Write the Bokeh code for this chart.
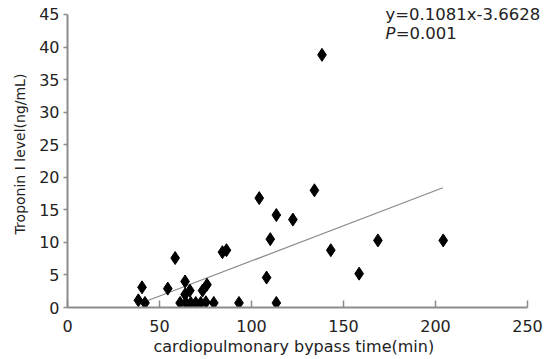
from bokeh.plotting import figure
from bokeh.models import Range1d, Label, FixedTicker, Title
from bokeh.embed import file_html
from bokeh.resources import INLINE

# data
bypass_time = [38.5, 42.1, 40.5, 54.5, 58.5, 61.2, 63.9, 63.9, 64.3, 66.5,
               67.0, 69.7, 72.4, 73.4, 75.8, 75.2, 79.5, 93.2, 84.2, 86.4,
               104.2, 108.2, 110.2, 113.5, 113.5, 122.5, 134.2, 138.3, 143.1,
               158.5, 168.7, 204.2]
troponin = [1.1, 0.7, 3.1, 2.9, 7.6, 0.7, 4.0, 2.0, 0.7, 2.6,
            0.7, 0.7, 0.7, 2.6, 3.5, 0.8, 0.7, 0.7, 8.5, 8.8,
            16.8, 4.6, 10.5, 14.2, 0.7, 13.5, 18.0, 38.8, 8.8,
            5.2, 10.3, 10.3]
trend_x = [43.0, 204.0]
trend_y = [0.99, 18.39]
x_ticks = [0, 50, 100, 150, 200, 250]
y_ticks = [0, 5, 10, 15, 20, 25, 30, 35, 40, 45]
equation_text = "y=0.1081x-3.6628"
p_text = "=0.001"

FONT = "DejaVu Sans"
TXT = "#222222"
AX = "#8c8c8c"

p = figure(frame_width=487, frame_height=307, output_backend="svg",
           toolbar_location=None,
           x_range=Range1d(0, 264.67), y_range=Range1d(0, 47.15),
           min_border_left=67, min_border_right=0, min_border_top=0,
           min_border_bottom=52)
p.outline_line_color = None
p.grid.visible = False
p.background_fill_color = "white"
p.border_fill_color = "white"

p.line(trend_x, trend_y, line_color="#8a8a8a", line_width=1.2)
p.scatter(bypass_time, troponin, marker="diamond", size=13,
          fill_color="black", line_color="black")

for ax in (p.xaxis[0], p.yaxis[0]):
    ax.axis_line_color = AX
    ax.axis_line_width = 2
    ax.major_tick_line_color = AX
    ax.major_tick_line_width = 1.5
    ax.minor_tick_line_color = None
    ax.major_label_text_font = FONT
    ax.major_label_text_font_size = "16px"
    ax.major_label_text_color = TXT
    ax.axis_label_text_font = FONT
    ax.axis_label_text_font_style = "normal"
    ax.axis_label_text_color = TXT

p.yaxis.axis_label_text_font_size = "14px"
p.xaxis.ticker = FixedTicker(ticks=x_ticks)
p.yaxis.ticker = FixedTicker(ticks=y_ticks)
p.xaxis.bounds = (0, 250)
p.yaxis.bounds = (0, 45)
p.xaxis.major_tick_in = 7
p.xaxis.major_tick_out = 0
p.yaxis.major_tick_in = 0
p.yaxis.major_tick_out = 4
p.xaxis.major_label_standoff = 12
p.yaxis.major_label_standoff = 4
p.yaxis.axis_label = "Troponin I level(ng/mL)"
p.yaxis.axis_label_standoff = 8

xtitle = Title(text="cardiopulmonary bypass time(min)", align="left",
               offset=86, standoff=0, text_font=FONT, text_font_size="16px",
               text_font_style="normal", text_color=TXT)
p.add_layout(xtitle, "below")

p.add_layout(Label(x=172.8, y=45, text=equation_text, text_font=FONT,
                   text_font_size="16.5px", text_color=TXT,
                   text_baseline="middle", text_align="left"))
p.add_layout(Label(x=172.8, y=42.1, text="P", text_font=FONT,
                   text_font_size="16.5px", text_color=TXT,
                   text_font_style="italic",
                   text_baseline="middle", text_align="left"))
p.add_layout(Label(x=178.4, y=42.1, text=p_text, text_font=FONT,
                   text_font_size="16.5px", text_color=TXT,
                   text_baseline="middle", text_align="left"))

open("out.html", "w").write(file_html(p, INLINE))
